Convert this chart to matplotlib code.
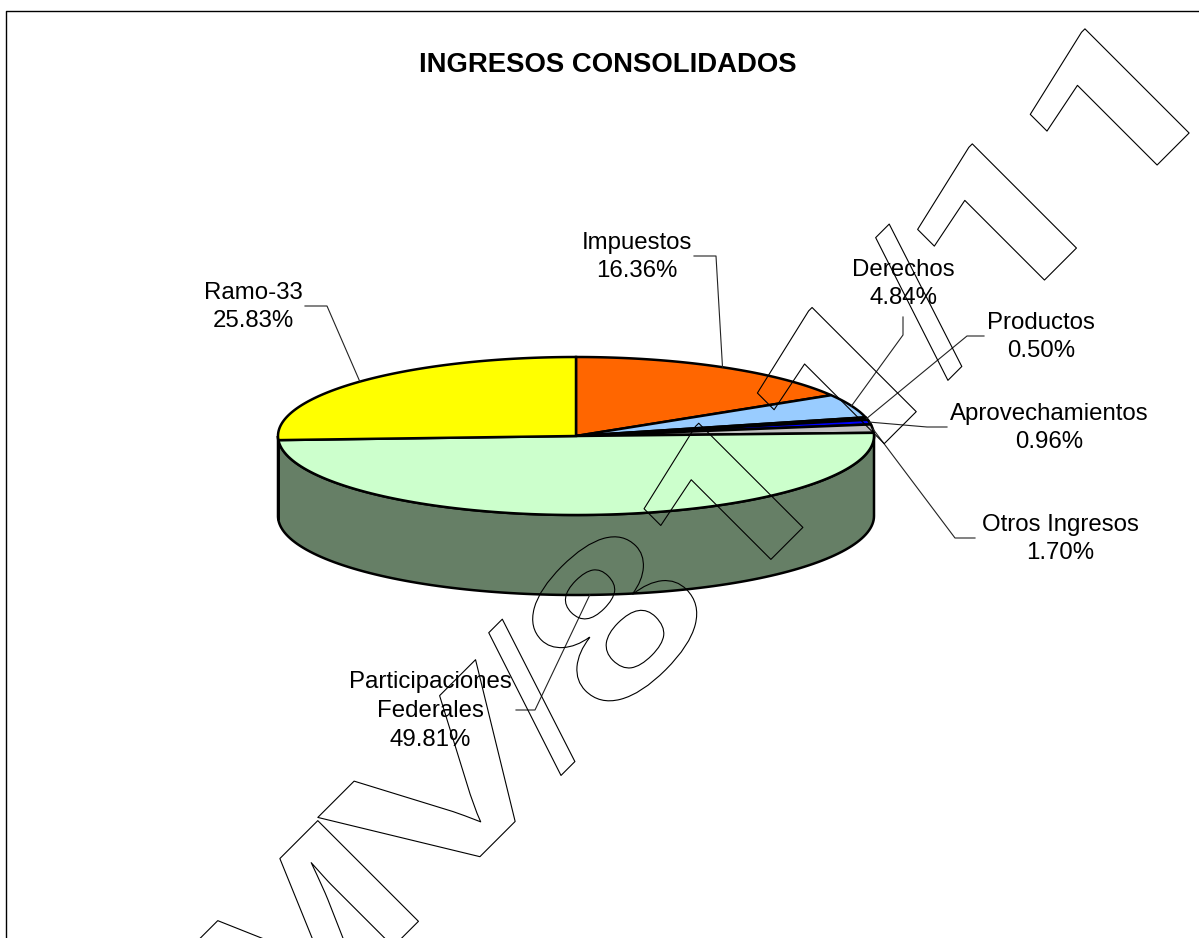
import numpy as np
import matplotlib
matplotlib.use("Agg")
import matplotlib.pyplot as plt
import matplotlib.patheffects as pe
from matplotlib.patches import Polygon
from matplotlib.transforms import Affine2D

# data, clockwise from 12 o'clock
names = ["Impuestos", "Derechos", "Productos", "Aprovechamientos", "Otros Ingresos",
         "Participaciones\nFederales", "Ramo-33"]
shares = [16.36, 4.84, 0.50, 0.96, 1.70, 49.81, 25.83]
title = "INGRESOS CONSOLIDADOS"

top_colors = ["#FF6600", "#99CCFF", "#808000", "#0000FF", "#C0C0C0", "#CCFFCC", "#FFFF00"]
side_colors = ["#7F3300", "#4C667F", "#404000", "#00007F", "#606060", "#667F66", "#7F7F00"]

# label centre and leader elbow points, in pixels
label_pos = [(637, 257), (903, 284), (1041, 337), (1049, 428), (1060, 539), (430, 711), (253, 307)]
leader_pts = [[(694, 256), (716, 256)], [(903, 317), (903, 335)], [(984, 336), (967, 336)],
              [(947, 427), (927, 427)], [(975, 538), (955, 538)], [(516, 710), (535, 710)],
              [(305, 306), (327, 306)]]

# watermark glyphs, distance along the baseline, and how each one is set
wm_chars = ["M", "V", "/", "8", "1", "1", "/", "1", "1"]
wm_dist = [-1199, -985, -781, -713, -560, -398, -228, -169, -8]
wm_family = ["Liberation Sans"] * 4 + ["Roboto", "Roboto", "Liberation Sans", "Roboto", "Roboto"]
wm_weight = ["bold", "bold", "normal", "bold", "bold", "bold", "normal", "bold", "bold"]
wm_stretch = [1.35, 1.65, 1.2, 1.4, 1.55, 1.55, 1.2, 1.55, 1.55]
wm_origin = (1106, 216)
wm_line_angle = 45.6
wm_angle = 45

cx, cy, rx, ry, depth = 576, 436, 298, 79, 80


class Stretched(pe.AbstractPathEffect):
    # outline only, glyph widened along its baseline like the WordArt original
    def __init__(self, sx, lw):
        super().__init__()
        self.sx = sx
        self.lw = lw

    def draw_path(self, renderer, gc, tpath, affine, rgbFace=None):
        gc0 = renderer.new_gc()
        gc0.copy_properties(gc)
        gc0.set_linewidth(self.lw)
        gc0.set_foreground("black")
        renderer.draw_path(gc0, tpath, Affine2D().scale(self.sx, 1) + affine, None)
        gc0.restore()


def rim(theta):
    t = np.radians(theta)
    return cx + rx * np.sin(t), cy - ry * np.cos(t)


fig = plt.figure(figsize=(11.99, 9.38), dpi=100)
ax = fig.add_axes([0, 0, 1, 1])
ax.set_xlim(0, 1199)
ax.set_ylim(938, 0)
ax.axis("off")

plt.rcParams["font.family"] = ["Liberation Sans", "DejaVu Sans"]

# frame of the chart area, bottom and right run off the page
ax.plot([6, 6, 1199], [938, 11.5, 11.5], color="black", lw=1.0)

edges = np.cumsum([0] + shares) * 3.6

# side wall
for i in range(len(shares)):
    a = max(edges[i], 90)
    b = min(edges[i + 1], 270)
    if b <= a:
        continue
    th = np.linspace(a, b, 120)
    x, y = rim(th)
    pts = np.r_[np.c_[x, y], np.c_[x, y + depth][::-1]]
    ax.add_patch(Polygon(pts, closed=True, fc=side_colors[i], ec="black", lw=1.8, zorder=2))

# top face
for i in range(len(shares)):
    th = np.linspace(edges[i], edges[i + 1], 120)
    x, y = rim(th)
    pts = np.r_[[[cx, cy]], np.c_[x, y]]
    ax.add_patch(Polygon(pts, closed=True, fc=top_colors[i], ec="black", lw=1.8, zorder=3))

# labels and leaders
for i, name in enumerate(names):
    ax.text(label_pos[i][0], label_pos[i][1], f"{name}\n{shares[i]:.2f}%", ha="center", va="center",
            fontsize=17.3, linespacing=1.41, color="black", zorder=5)
    mid = (edges[i] + edges[i + 1]) / 2
    ex, ey = rim(mid)
    if 90 < mid < 270:
        ey += depth
    px = [p[0] for p in leader_pts[i]] + [ex]
    py = [p[1] for p in leader_pts[i]] + [ey]
    ax.plot(px, py, color="#222222", lw=0.8, zorder=5)

ax.text(607.5, 65, title, ha="center", va="center", fontsize=19.8, fontweight="bold", zorder=5)

# watermark
ang = np.radians(wm_line_angle)
for i, ch in enumerate(wm_chars):
    d = wm_dist[i]
    ax.text(wm_origin[0] + d * np.cos(ang), wm_origin[1] - d * np.sin(ang), ch,
            family=wm_family[i], fontsize=149, fontweight=wm_weight[i], rotation=wm_angle,
            rotation_mode="anchor", ha="left", va="baseline", zorder=6, clip_on=True,
            path_effects=[Stretched(wm_stretch[i], 0.8)])

fig.savefig("out.png", dpi=100)
